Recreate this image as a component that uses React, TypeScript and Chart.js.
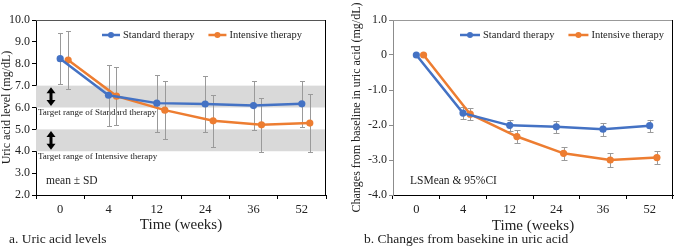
import { useEffect, useRef } from 'react';
import { Chart, registerables } from 'chart.js';

Chart.register(...registerables);

// ---------- data ----------
const weeks = ['0', '4', '12', '24', '36', '52'];

// Panel a: uric acid level (mean ± SD)
const stdMean = [8.23, 6.56, 6.2, 6.16, 6.09, 6.17];
const stdSD = [1.17, 1.39, 1.3, 1.26, 1.12, 1.06];
const intMean = [8.17, 6.52, 5.88, 5.39, 5.21, 5.29];
const intSD = [1.31, 1.32, 1.33, 1.2, 1.23, 1.32];

// Panel b: change from baseline (LSMean & 95% CI half-width)
const stdChange = [0, -1.66, -2.01, -2.05, -2.12, -2.02];
const stdCI = [0, 0.17, 0.16, 0.17, 0.18, 0.17];
const intChange = [0, -1.69, -2.33, -2.81, -3.0, -2.93];
const intCI = [0, 0.18, 0.19, 0.18, 0.19, 0.19];

const yTicksA = [2, 3, 4, 5, 6, 7, 8, 9, 10];
const yTicksB = [-4, -3, -2, -1, 0, 1];

const targetBands = [
  { from: 6, to: 7, label: 'Target range of Standard therapy' },
  { from: 4, to: 5, label: 'Target range of Intensive therapy' },
];

const seriesNames = ['Standard therapy', 'Intensive therapy'];
const BLUE = '#4472C4';
const ORANGE = '#ED7D31';
const FONT = "'Liberation Serif', 'Times New Roman', serif";

// ---------- plugins ----------
const bandsPlugin = {
  id: 'bands',
  beforeDatasetsDraw(chart: any, _a: any, opts: any) {
    const bands = opts && opts.items;
    if (!bands) return;
    const { ctx, chartArea } = chart;
    const y = chart.scales.y;
    ctx.save();
    bands.forEach((b: any) => {
      const yTop = y.getPixelForValue(b.to);
      const yBot = y.getPixelForValue(b.from);
      ctx.fillStyle = '#d9d9d9';
      ctx.fillRect(chartArea.left, yTop, chartArea.right - chartArea.left, yBot - yTop);
      // double arrow
      const ax = chartArea.left + 15;
      const t = yTop + 1.5;
      const bt = yBot - 1.5;
      ctx.fillStyle = '#000';
      ctx.strokeStyle = '#000';
      ctx.lineWidth = 3;
      ctx.beginPath();
      ctx.moveTo(ax, t + 4);
      ctx.lineTo(ax, bt - 4);
      ctx.stroke();
      ctx.beginPath();
      ctx.moveTo(ax, t);
      ctx.lineTo(ax - 4.5, t + 6);
      ctx.lineTo(ax + 4.5, t + 6);
      ctx.closePath();
      ctx.fill();
      ctx.beginPath();
      ctx.moveTo(ax, bt);
      ctx.lineTo(ax - 4.5, bt - 6);
      ctx.lineTo(ax + 4.5, bt - 6);
      ctx.closePath();
      ctx.fill();
      // label
      ctx.fillStyle = '#222';
      ctx.font = `9px ${FONT}`;
      ctx.textAlign = 'left';
      ctx.textBaseline = 'alphabetic';
      ctx.fillText(b.label, chartArea.left + 2, yBot + 7.5);
    });
    ctx.restore();
  },
};

const errorBarPlugin = {
  id: 'errorBars',
  beforeDatasetsDraw(chart: any, _a: any, opts: any) {
    const { ctx } = chart;
    const cap = (opts && opts.cap) || 2.5;
    ctx.save();
    ctx.strokeStyle = (opts && opts.color) || '#999';
    ctx.lineWidth = 1;
    chart.data.datasets.forEach((ds: any, di: number) => {
      const err = ds.errors;
      if (!err) return;
      const meta = chart.getDatasetMeta(di);
      const yScale = chart.scales[meta.yAxisID];
      meta.data.forEach((pt: any, i: number) => {
        const e = err[i];
        if (!e) return;
        const v = ds.data[i].y;
        const x = Math.round(pt.x) + 0.5;
        const y1 = Math.round(yScale.getPixelForValue(v + e)) + 0.5;
        const y2 = Math.round(yScale.getPixelForValue(v - e)) + 0.5;
        ctx.beginPath();
        ctx.moveTo(x, y1);
        ctx.lineTo(x, y2);
        ctx.moveTo(x - cap, y1);
        ctx.lineTo(x + cap, y1);
        ctx.moveTo(x - cap, y2);
        ctx.lineTo(x + cap, y2);
        ctx.stroke();
      });
    });
    ctx.restore();
  },
};

const frameAndLegendPlugin = {
  id: 'frameLegend',
  afterDraw(chart: any, _a: any, opts: any) {
    const { ctx, chartArea } = chart;
    ctx.save();
    // top and right frame
    ctx.lineWidth = 1;
    ctx.strokeStyle = opts.topColor || '#555';
    ctx.beginPath();
    ctx.moveTo(chartArea.left, Math.round(chartArea.top) + 0.5);
    ctx.lineTo(chartArea.right, Math.round(chartArea.top) + 0.5);
    ctx.stroke();
    ctx.strokeStyle = '#000';
    ctx.beginPath();
    ctx.moveTo(Math.round(chartArea.right) - 0.5, chartArea.top);
    ctx.lineTo(Math.round(chartArea.right) - 0.5, chartArea.bottom);
    ctx.stroke();

    // legend
    let x = chartArea.left + opts.legendX;
    const y = chartArea.top + 15;
    ctx.font = `10.5px ${FONT}`;
    ctx.textBaseline = 'middle';
    ctx.textAlign = 'left';
    chart.data.datasets.forEach((ds: any) => {
      const len = opts.lineLen;
      ctx.strokeStyle = ds.borderColor;
      ctx.lineWidth = 2.5;
      ctx.beginPath();
      ctx.moveTo(x, y);
      ctx.lineTo(x + len, y);
      ctx.stroke();
      ctx.fillStyle = ds.borderColor;
      ctx.beginPath();
      ctx.arc(x + len / 2, y, 3, 0, Math.PI * 2);
      ctx.fill();
      ctx.fillStyle = '#222';
      ctx.fillText(ds.label, x + len + 3, y);
      x += len + 3 + ctx.measureText(ds.label).width + 14;
    });

    // note text
    ctx.font = `11.5px ${FONT}`;
    ctx.fillStyle = '#222';
    ctx.fillText(opts.note, chartArea.left + opts.noteX, chartArea.bottom - 14);
    ctx.restore();
  },
};

function makeData(mean: number[], dodge: number) {
  return mean.map((v, i) => ({ x: i + dodge, y: v }));
}

function buildConfig(p: {
  std: number[];
  stdErr: number[];
  int: number[];
  intErr: number[];
  dodge: number;
  yTicks: number[];
  yTitle: string;
  yTitlePad: number;
  yWidth: number;
  xTitlePad: number;
  fmt: (v: number) => string;
  leftAxisColor: string;
  bands: any[] | null;
  legendX: number;
  lineLen: number;
  note: string;
  noteX: number;
  topColor: string;
  padRight: number;
  cap: number;
}) {
  const ds = (label: string, color: string, data: any[], errors: number[]) => ({
    label,
    data,
    errors,
    xAxisID: 'xv',
    yAxisID: 'y',
    borderColor: color,
    backgroundColor: color,
    borderWidth: 2.5,
    pointRadius: 3.6,
    pointBorderWidth: 0,
    pointBackgroundColor: color,
    tension: 0,
    clip: false,
  });
  return {
    type: 'line',
    data: {
      labels: weeks,
      datasets: [
        ds(seriesNames[0], BLUE, makeData(p.std, 0), p.stdErr),
        ds(seriesNames[1], ORANGE, makeData(p.int, p.dodge), p.intErr),
      ],
    },
    options: {
      responsive: false,
      animation: false,
      layout: { padding: { top: 20, right: p.padRight, left: 0, bottom: 0 } },
      font: { family: FONT },
      plugins: {
        legend: { display: false },
        tooltip: { enabled: false },
        bands: { items: p.bands },
        errorBars: { color: '#9a9a9a', cap: p.cap },
        frameLegend: {
          legendX: p.legendX,
          lineLen: p.lineLen,
          note: p.note,
          noteX: p.noteX,
          topColor: p.topColor,
        },
      },
      scales: {
        x: {
          type: 'category',
          labels: weeks,
          offset: true,
          position: 'bottom',
          grid: {
            offset: true,
            drawOnChartArea: false,
            drawTicks: true,
            tickLength: 4,
            color: '#000',
          },
          border: { color: '#000', width: 1 },
          ticks: { color: '#222', font: { family: FONT, size: 12.5 }, padding: 3 },
          title: {
            display: true,
            text: 'Time (weeks)',
            color: '#222',
            font: { family: FONT, size: 15 },
            padding: { top: 0, bottom: p.xTitlePad },
          },
          afterFit: (s: any) => {
            s.height = 52;
          },
        },
        xv: {
          type: 'linear',
          display: false,
          min: -0.5,
          max: weeks.length - 0.5,
        },
        y: {
          type: 'linear',
          min: p.yTicks[0],
          max: p.yTicks[p.yTicks.length - 1],
          afterBuildTicks: (s: any) => {
            s.ticks = p.yTicks.map((v) => ({ value: v }));
          },
          grid: {
            drawOnChartArea: false,
            drawTicks: true,
            tickLength: 4,
            color: p.leftAxisColor,
          },
          border: { color: p.leftAxisColor, width: 1 },
          ticks: {
            color: '#222',
            font: { family: FONT, size: 12 },
            padding: 2,
            callback: (v: any) => p.fmt(Number(v)),
          },
          title: {
            display: true,
            text: p.yTitle,
            color: '#222',
            font: { family: FONT, size: 12 },
            padding: { top: p.yTitlePad, bottom: 0 },
          },
          afterFit: (s: any) => {
            s.width = p.yWidth;
          },
        },
      },
    },
    plugins: [bandsPlugin, errorBarPlugin, frameAndLegendPlugin],
  };
}

export default function App() {
  const refA = useRef<HTMLCanvasElement>(null);
  const refB = useRef<HTMLCanvasElement>(null);

  useEffect(() => {
    const a = new Chart(
      refA.current as HTMLCanvasElement,
      buildConfig({
        std: stdMean,
        stdErr: stdSD,
        int: intMean,
        intErr: intSD,
        dodge: 0.165,
        yTicks: yTicksA,
        yTitle: 'Uric acid level (mg/dL)',
        yTitlePad: 0,
        yWidth: 36,
        xTitlePad: 13,
        fmt: (v) => v.toFixed(1),
        leftAxisColor: '#000',
        bands: targetBands,
        legendX: 66,
        lineLen: 18,
        note: 'mean \u00B1 SD',
        noteX: 10,
        topColor: '#555',
        padRight: 11,
        cap: 2.5,
      }) as any
    );
    const b = new Chart(
      refB.current as HTMLCanvasElement,
      buildConfig({
        std: stdChange,
        stdErr: stdCI,
        int: intChange,
        intErr: intCI,
        dodge: 0.155,
        yTicks: yTicksB,
        yTitle: 'Changes from baseline in uric acid (mg/dL)',
        yTitlePad: 13,
        yWidth: 56,
        xTitlePad: 11.5,
        fmt: (v) => (v === 0 ? '0' : v.toFixed(1)),
        leftAxisColor: '#8c8c8c',
        bands: null,
        legendX: 67,
        lineLen: 20,
        note: 'LSMean & 95%CI',
        noteX: 17,
        topColor: '#999',
        padRight: 1.5,
        cap: 3,
      }) as any
    );
    return () => {
      a.destroy();
      b.destroy();
    };
  }, []);

  const cap: any = {
    position: 'absolute',
    top: 231,
    fontFamily: FONT,
    fontSize: '13.5px',
    lineHeight: '16px',
    color: '#222',
    whiteSpace: 'nowrap',
  };

  return (
    <div style={{ position: 'fixed', left: 0, top: 0, width: 677, height: 247, background: '#fff', overflow: 'hidden' }}>
      <canvas ref={refA} width={337} height={247} style={{ position: 'absolute', left: 0, top: 0 }} />
      <canvas ref={refB} width={340} height={247} style={{ position: 'absolute', left: 337, top: 0 }} />
      <div style={{ ...cap, left: 9 }}>a. Uric acid levels</div>
      <div style={{ ...cap, left: 364 }}>b. Changes from basekine in uric acid</div>
    </div>
  );
}
